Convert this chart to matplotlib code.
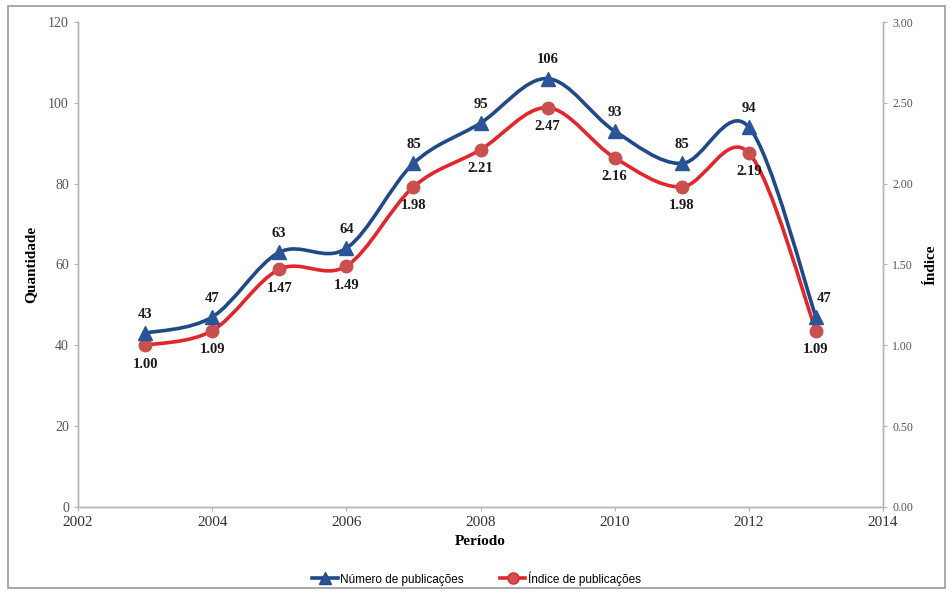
import numpy as np
import matplotlib
matplotlib.use("Agg")
import matplotlib.pyplot as plt
from matplotlib.path import Path
from matplotlib.patches import PathPatch, Rectangle
from matplotlib.lines import Line2D

years = [2003, 2004, 2005, 2006, 2007, 2008, 2009, 2010, 2011, 2012, 2013]
publicacoes = [43, 47, 63, 64, 85, 95, 106, 93, 85, 94, 47]
indice = [1.00, 1.09, 1.47, 1.49, 1.98, 2.21, 2.47, 2.16, 1.98, 2.19, 1.09]

blue = "#1F4A87"
blue_mk = "#2A5598"
red = "#E3262B"
red_mk = "#C9504F"

plt.rcParams["font.family"] = ["Liberation Serif", "DejaVu Serif"]


def smooth_path(x, y, t=1 / 6):
    # Excel-style smoothed line: cubic bezier through every point
    x = np.asarray(x, float)
    y = np.asarray(y, float)
    verts = [(x[0], y[0])]
    codes = [Path.MOVETO]
    n = len(x)
    for i in range(n - 1):
        p0 = i - 1 if i > 0 else i
        p3 = i + 2 if i + 2 < n else i + 1
        c1 = (x[i] + (x[i + 1] - x[p0]) * t, y[i] + (y[i + 1] - y[p0]) * t)
        c2 = (x[i + 1] - (x[p3] - x[i]) * t, y[i + 1] - (y[p3] - y[i]) * t)
        verts += [c1, c2, (x[i + 1], y[i + 1])]
        codes += [Path.CURVE4] * 3
    return Path(verts, codes)


fig = plt.figure(figsize=(9.53, 5.95), dpi=100)
fig.patches.append(Rectangle((0.008, 0.012), 0.984, 0.978, transform=fig.transFigure,
                             fill=False, edgecolor="#9a9a9a", linewidth=1.2))

ax = fig.add_axes([0.0818, 0.148, 0.8448, 0.815])
ax2 = ax.twinx()

ax.set_xlim(2002, 2014)
ax.set_ylim(0, 120)
ax2.set_ylim(0, 3.0)
ax.set_xticks(range(2002, 2015, 2))
ax.set_yticks(range(0, 121, 20))
ax2.set_yticks(np.arange(0, 3.01, 0.5))
ax2.set_yticklabels([f"{v:.2f}" for v in np.arange(0, 3.01, 0.5)])

for a in (ax, ax2):
    for s in a.spines.values():
        s.set_color("#b5b5b5")
        s.set_linewidth(1)
    a.spines["top"].set_visible(False)
    a.tick_params(colors="#b5b5b5", labelcolor="#555555", labelsize=10, length=3)
ax2.tick_params(axis="y", labelsize=8.5)
ax.tick_params(axis="x", labelsize=11, labelcolor="#333333")

# index series (right axis)
ax2.add_patch(PathPatch(smooth_path(years, indice), fill=False, edgecolor=red,
                        linewidth=2.6, zorder=3))
ax2.plot(years, indice, "o", color=red_mk, markersize=9, zorder=4)

# publication counts (left axis)
ax.set_zorder(ax2.get_zorder() + 1)
ax.patch.set_visible(False)
ax.add_patch(PathPatch(smooth_path(years, publicacoes), fill=False, edgecolor=blue,
                       linewidth=2.6, zorder=3))
ax.plot(years, publicacoes, "^", color=blue_mk, markersize=10, zorder=4)

for i, (x, v) in enumerate(zip(years, publicacoes)):
    dx = 0.12 if i == len(years) - 1 else 0
    ax.annotate(str(v), (x + dx, v), xytext=(0, 9), textcoords="offset points",
                ha="center", va="bottom", fontsize=10.5, fontweight="bold", color="#1a1a1a")
for i, (x, v) in enumerate(zip(years, indice)):
    dx = 0.12 if i == len(years) - 1 else 0
    ax2.annotate(f"{v:.2f}", (x, v), xytext=(0, -9), textcoords="offset points",
                 ha="center", va="top", fontsize=10.5, fontweight="bold", color="#1a1a1a")

ax.set_ylabel("Quantidade", fontsize=11, fontweight="bold", labelpad=8)
ax2.set_ylabel("Índice", fontsize=11, fontweight="bold", rotation=90, labelpad=8)
ax.set_xlabel("Período", fontsize=11, fontweight="bold", labelpad=4)

handles = [
    Line2D([], [], color=blue, marker="^", markersize=8, linewidth=2.6, markerfacecolor=blue_mk),
    Line2D([], [], color=red, marker="o", markersize=8, linewidth=2.6, markerfacecolor=red_mk),
]
fig.legend(handles, ["Número de publicações", "Índice de publicações"], loc="center",
           bbox_to_anchor=(0.5, 0.028), ncol=2, frameon=False, fontsize=8.5,
           handlelength=2.2, handletextpad=0.2, columnspacing=3,
           prop={"family": ["Liberation Sans", "DejaVu Sans"], "size": 8.5})

fig.savefig("out.png", dpi=100)
